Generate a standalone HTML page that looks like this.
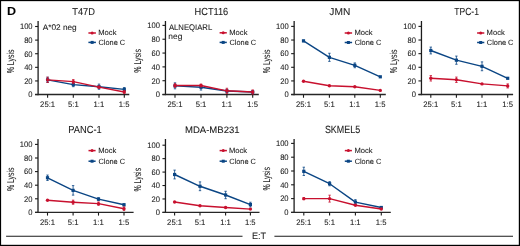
<!DOCTYPE html>
<html><head><meta charset="utf-8"><style>
html,body{margin:0;padding:0;background:#fff;width:520px;height:246px;overflow:hidden;}
svg{display:block;}
text{filter:grayscale(1);}
text{font-family:"Liberation Sans",sans-serif;stroke:#1a1a1a;stroke-width:0.08px;text-rendering:geometricPrecision;}
</style></head><body>
<svg width="520" height="246" viewBox="0 0 520 246">
<rect width="520" height="246" fill="#fff"/>
<rect x="0.00" y="0.00" width="520.00" height="1.15" fill="#000"/>
<rect x="0.00" y="0.00" width="1.10" height="246.00" fill="#000"/>
<rect x="518.80" y="0.00" width="1.20" height="246.00" fill="#000"/>
<rect x="0.00" y="244.80" width="520.00" height="1.20" fill="#000"/>
<text transform="translate(6.89,15.00) scale(1.067,1)" font-size="11.74" font-weight="bold" fill="#000">D</text>
<text transform="translate(72.21,15.00) scale(0.929,1)" font-size="10.00" fill="#1a1a1a">T47D</text>
<line x1="38.10" y1="21.00" x2="38.10" y2="95.15" stroke="#1c1c1c" stroke-width="1.3" stroke-linecap="butt"/>
<line x1="35.10" y1="94.55" x2="38.10" y2="94.55" stroke="#1a1a1a" stroke-width="1.1" stroke-linecap="butt"/>
<text transform="translate(28.35,97.35) scale(0.950,1)" font-size="8.00" fill="#1a1a1a">0</text>
<line x1="35.10" y1="80.94" x2="38.10" y2="80.94" stroke="#1a1a1a" stroke-width="1.1" stroke-linecap="butt"/>
<text transform="translate(24.13,83.74) scale(0.950,1)" font-size="8.00" fill="#1a1a1a">20</text>
<line x1="35.10" y1="67.33" x2="38.10" y2="67.33" stroke="#1a1a1a" stroke-width="1.1" stroke-linecap="butt"/>
<text transform="translate(24.13,70.13) scale(0.950,1)" font-size="8.00" fill="#1a1a1a">40</text>
<line x1="35.10" y1="53.72" x2="38.10" y2="53.72" stroke="#1a1a1a" stroke-width="1.1" stroke-linecap="butt"/>
<text transform="translate(24.13,56.52) scale(0.950,1)" font-size="8.00" fill="#1a1a1a">60</text>
<line x1="35.10" y1="40.11" x2="38.10" y2="40.11" stroke="#1a1a1a" stroke-width="1.1" stroke-linecap="butt"/>
<text transform="translate(24.13,42.91) scale(0.950,1)" font-size="8.00" fill="#1a1a1a">80</text>
<line x1="35.10" y1="26.50" x2="38.10" y2="26.50" stroke="#1a1a1a" stroke-width="1.1" stroke-linecap="butt"/>
<text transform="translate(19.91,29.30) scale(0.950,1)" font-size="8.00" fill="#1a1a1a">100</text>
<line x1="35.10" y1="94.55" x2="129.30" y2="94.55" stroke="#262626" stroke-width="1.4" stroke-linecap="butt"/>
<line x1="47.60" y1="94.55" x2="47.60" y2="97.75" stroke="#1a1a1a" stroke-width="1.1" stroke-linecap="butt"/>
<text transform="translate(40.11,106.85) scale(0.960,1)" font-size="8.00" fill="#1a1a1a">25:1</text>
<line x1="73.30" y1="94.55" x2="73.30" y2="97.75" stroke="#1a1a1a" stroke-width="1.1" stroke-linecap="butt"/>
<text transform="translate(67.98,106.85) scale(0.960,1)" font-size="8.00" fill="#1a1a1a">5:1</text>
<line x1="99.00" y1="94.55" x2="99.00" y2="97.75" stroke="#1a1a1a" stroke-width="1.1" stroke-linecap="butt"/>
<text transform="translate(93.55,106.85) scale(0.960,1)" font-size="8.00" fill="#1a1a1a">1:1</text>
<line x1="124.30" y1="94.55" x2="124.30" y2="97.75" stroke="#1a1a1a" stroke-width="1.1" stroke-linecap="butt"/>
<text transform="translate(118.83,106.85) scale(0.960,1)" font-size="8.00" fill="#1a1a1a">1:5</text>
<text transform="translate(13.60,61.42) rotate(-90)" font-size="10" text-anchor="middle" fill="#1a1a1a" textLength="23.6" lengthAdjust="spacingAndGlyphs" style="stroke-width:0.06px">% Lysis</text>
<line x1="88.40" y1="33.00" x2="95.90" y2="33.00" stroke="#c8102e" stroke-width="1.5" stroke-linecap="butt"/>
<circle cx="92.15" cy="33.00" r="1.5" fill="#c8102e"/>
<line x1="88.40" y1="42.40" x2="95.90" y2="42.40" stroke="#0a4584" stroke-width="1.5" stroke-linecap="butt"/>
<rect x="90.65" y="40.90" width="3.00" height="3.00" fill="#0a4584"/>
<text transform="translate(98.29,35.25) scale(1.000,1)" font-size="7.60" fill="#1a1a1a">Mock</text>
<text transform="translate(98.53,44.80) scale(0.970,1)" font-size="7.60" fill="#1a1a1a">Clone C</text>
<path d="M47.60,79.83 L73.30,84.65 L99.00,86.69 L124.30,89.41" fill="none" stroke="#0a4584" stroke-width="1.4" stroke-linejoin="round"/>
<line x1="47.60" y1="77.19" x2="47.60" y2="82.48" stroke="#0a4584" stroke-width="0.8" stroke-linecap="butt"/>
<line x1="46.40" y1="77.19" x2="48.80" y2="77.19" stroke="#0a4584" stroke-width="0.8" stroke-linecap="butt"/>
<line x1="46.40" y1="82.48" x2="48.80" y2="82.48" stroke="#0a4584" stroke-width="0.8" stroke-linecap="butt"/>
<rect x="46.00" y="78.23" width="3.20" height="3.20" fill="#0a4584"/>
<line x1="73.30" y1="82.62" x2="73.30" y2="86.69" stroke="#0a4584" stroke-width="0.8" stroke-linecap="butt"/>
<line x1="72.10" y1="82.62" x2="74.50" y2="82.62" stroke="#0a4584" stroke-width="0.8" stroke-linecap="butt"/>
<line x1="72.10" y1="86.69" x2="74.50" y2="86.69" stroke="#0a4584" stroke-width="0.8" stroke-linecap="butt"/>
<rect x="71.70" y="83.05" width="3.20" height="3.20" fill="#0a4584"/>
<line x1="99.00" y1="84.11" x2="99.00" y2="89.27" stroke="#0a4584" stroke-width="0.8" stroke-linecap="butt"/>
<line x1="97.80" y1="84.11" x2="100.20" y2="84.11" stroke="#0a4584" stroke-width="0.8" stroke-linecap="butt"/>
<line x1="97.80" y1="89.27" x2="100.20" y2="89.27" stroke="#0a4584" stroke-width="0.8" stroke-linecap="butt"/>
<rect x="97.40" y="85.09" width="3.20" height="3.20" fill="#0a4584"/>
<line x1="124.30" y1="87.51" x2="124.30" y2="91.31" stroke="#0a4584" stroke-width="0.8" stroke-linecap="butt"/>
<line x1="123.10" y1="87.51" x2="125.50" y2="87.51" stroke="#0a4584" stroke-width="0.8" stroke-linecap="butt"/>
<line x1="123.10" y1="91.31" x2="125.50" y2="91.31" stroke="#0a4584" stroke-width="0.8" stroke-linecap="butt"/>
<rect x="122.70" y="87.81" width="3.20" height="3.20" fill="#0a4584"/>
<path d="M47.60,79.83 L73.30,81.60 L99.00,87.17 L124.30,91.99" fill="none" stroke="#c8102e" stroke-width="1.4" stroke-linejoin="round"/>
<line x1="47.60" y1="77.19" x2="47.60" y2="82.48" stroke="#c8102e" stroke-width="0.8" stroke-linecap="butt"/>
<line x1="46.40" y1="77.19" x2="48.80" y2="77.19" stroke="#c8102e" stroke-width="0.8" stroke-linecap="butt"/>
<line x1="46.40" y1="82.48" x2="48.80" y2="82.48" stroke="#c8102e" stroke-width="0.8" stroke-linecap="butt"/>
<circle cx="47.60" cy="79.83" r="1.7" fill="#c8102e"/>
<line x1="73.30" y1="79.56" x2="73.30" y2="83.64" stroke="#c8102e" stroke-width="0.8" stroke-linecap="butt"/>
<line x1="72.10" y1="79.56" x2="74.50" y2="79.56" stroke="#c8102e" stroke-width="0.8" stroke-linecap="butt"/>
<line x1="72.10" y1="83.64" x2="74.50" y2="83.64" stroke="#c8102e" stroke-width="0.8" stroke-linecap="butt"/>
<circle cx="73.30" cy="81.60" r="1.7" fill="#c8102e"/>
<line x1="99.00" y1="86.15" x2="99.00" y2="88.19" stroke="#c8102e" stroke-width="0.8" stroke-linecap="butt"/>
<line x1="97.80" y1="86.15" x2="100.20" y2="86.15" stroke="#c8102e" stroke-width="0.8" stroke-linecap="butt"/>
<line x1="97.80" y1="88.19" x2="100.20" y2="88.19" stroke="#c8102e" stroke-width="0.8" stroke-linecap="butt"/>
<circle cx="99.00" cy="87.17" r="1.7" fill="#c8102e"/>
<line x1="124.30" y1="90.63" x2="124.30" y2="93.35" stroke="#c8102e" stroke-width="0.8" stroke-linecap="butt"/>
<line x1="123.10" y1="90.63" x2="125.50" y2="90.63" stroke="#c8102e" stroke-width="0.8" stroke-linecap="butt"/>
<line x1="123.10" y1="93.35" x2="125.50" y2="93.35" stroke="#c8102e" stroke-width="0.8" stroke-linecap="butt"/>
<circle cx="124.30" cy="91.99" r="1.7" fill="#c8102e"/>
<text transform="translate(194.56,15.00) scale(0.898,1)" font-size="10.29" fill="#1a1a1a">HCT116</text>
<line x1="165.45" y1="21.00" x2="165.45" y2="95.15" stroke="#1c1c1c" stroke-width="1.3" stroke-linecap="butt"/>
<line x1="162.45" y1="94.55" x2="165.45" y2="94.55" stroke="#1a1a1a" stroke-width="1.1" stroke-linecap="butt"/>
<text transform="translate(155.70,97.35) scale(0.950,1)" font-size="8.00" fill="#1a1a1a">0</text>
<line x1="162.45" y1="80.72" x2="165.45" y2="80.72" stroke="#1a1a1a" stroke-width="1.1" stroke-linecap="butt"/>
<text transform="translate(151.48,83.52) scale(0.950,1)" font-size="8.00" fill="#1a1a1a">20</text>
<line x1="162.45" y1="66.89" x2="165.45" y2="66.89" stroke="#1a1a1a" stroke-width="1.1" stroke-linecap="butt"/>
<text transform="translate(151.48,69.69) scale(0.950,1)" font-size="8.00" fill="#1a1a1a">40</text>
<line x1="162.45" y1="53.06" x2="165.45" y2="53.06" stroke="#1a1a1a" stroke-width="1.1" stroke-linecap="butt"/>
<text transform="translate(151.48,55.86) scale(0.950,1)" font-size="8.00" fill="#1a1a1a">60</text>
<line x1="162.45" y1="39.23" x2="165.45" y2="39.23" stroke="#1a1a1a" stroke-width="1.1" stroke-linecap="butt"/>
<text transform="translate(151.48,42.03) scale(0.950,1)" font-size="8.00" fill="#1a1a1a">80</text>
<line x1="162.45" y1="25.40" x2="165.45" y2="25.40" stroke="#1a1a1a" stroke-width="1.1" stroke-linecap="butt"/>
<text transform="translate(147.26,28.20) scale(0.950,1)" font-size="8.00" fill="#1a1a1a">100</text>
<line x1="162.45" y1="94.55" x2="258.80" y2="94.55" stroke="#262626" stroke-width="1.4" stroke-linecap="butt"/>
<line x1="175.00" y1="94.55" x2="175.00" y2="97.75" stroke="#1a1a1a" stroke-width="1.1" stroke-linecap="butt"/>
<text transform="translate(167.51,106.85) scale(0.960,1)" font-size="8.00" fill="#1a1a1a">25:1</text>
<line x1="201.00" y1="94.55" x2="201.00" y2="97.75" stroke="#1a1a1a" stroke-width="1.1" stroke-linecap="butt"/>
<text transform="translate(195.68,106.85) scale(0.960,1)" font-size="8.00" fill="#1a1a1a">5:1</text>
<line x1="226.90" y1="94.55" x2="226.90" y2="97.75" stroke="#1a1a1a" stroke-width="1.1" stroke-linecap="butt"/>
<text transform="translate(221.45,106.85) scale(0.960,1)" font-size="8.00" fill="#1a1a1a">1:1</text>
<line x1="252.70" y1="94.55" x2="252.70" y2="97.75" stroke="#1a1a1a" stroke-width="1.1" stroke-linecap="butt"/>
<text transform="translate(247.23,106.85) scale(0.960,1)" font-size="8.00" fill="#1a1a1a">1:5</text>
<text transform="translate(140.95,60.87) rotate(-90)" font-size="10" text-anchor="middle" fill="#1a1a1a" textLength="23.6" lengthAdjust="spacingAndGlyphs" style="stroke-width:0.06px">% Lysis</text>
<line x1="219.60" y1="32.80" x2="226.80" y2="32.80" stroke="#c8102e" stroke-width="1.5" stroke-linecap="butt"/>
<circle cx="223.20" cy="32.80" r="1.5" fill="#c8102e"/>
<line x1="219.60" y1="42.40" x2="226.80" y2="42.40" stroke="#0a4584" stroke-width="1.5" stroke-linecap="butt"/>
<rect x="221.70" y="40.90" width="3.00" height="3.00" fill="#0a4584"/>
<text transform="translate(229.29,35.05) scale(1.000,1)" font-size="7.60" fill="#1a1a1a">Mock</text>
<text transform="translate(229.53,44.80) scale(0.970,1)" font-size="7.60" fill="#1a1a1a">Clone C</text>
<path d="M175.00,85.83 L201.00,87.28 L226.90,91.03 L252.70,92.00" fill="none" stroke="#0a4584" stroke-width="1.4" stroke-linejoin="round"/>
<line x1="175.00" y1="82.84" x2="175.00" y2="88.81" stroke="#0a4584" stroke-width="0.8" stroke-linecap="butt"/>
<line x1="173.80" y1="82.84" x2="176.20" y2="82.84" stroke="#0a4584" stroke-width="0.8" stroke-linecap="butt"/>
<line x1="173.80" y1="88.81" x2="176.20" y2="88.81" stroke="#0a4584" stroke-width="0.8" stroke-linecap="butt"/>
<rect x="173.40" y="84.23" width="3.20" height="3.20" fill="#0a4584"/>
<line x1="201.00" y1="84.51" x2="201.00" y2="90.06" stroke="#0a4584" stroke-width="0.8" stroke-linecap="butt"/>
<line x1="199.80" y1="84.51" x2="202.20" y2="84.51" stroke="#0a4584" stroke-width="0.8" stroke-linecap="butt"/>
<line x1="199.80" y1="90.06" x2="202.20" y2="90.06" stroke="#0a4584" stroke-width="0.8" stroke-linecap="butt"/>
<rect x="199.40" y="85.68" width="3.20" height="3.20" fill="#0a4584"/>
<line x1="226.90" y1="89.30" x2="226.90" y2="92.77" stroke="#0a4584" stroke-width="0.8" stroke-linecap="butt"/>
<line x1="225.70" y1="89.30" x2="228.10" y2="89.30" stroke="#0a4584" stroke-width="0.8" stroke-linecap="butt"/>
<line x1="225.70" y1="92.77" x2="228.10" y2="92.77" stroke="#0a4584" stroke-width="0.8" stroke-linecap="butt"/>
<rect x="225.30" y="89.43" width="3.20" height="3.20" fill="#0a4584"/>
<line x1="252.70" y1="90.61" x2="252.70" y2="93.39" stroke="#0a4584" stroke-width="0.8" stroke-linecap="butt"/>
<line x1="251.50" y1="90.61" x2="253.90" y2="90.61" stroke="#0a4584" stroke-width="0.8" stroke-linecap="butt"/>
<line x1="251.50" y1="93.39" x2="253.90" y2="93.39" stroke="#0a4584" stroke-width="0.8" stroke-linecap="butt"/>
<rect x="251.10" y="90.40" width="3.20" height="3.20" fill="#0a4584"/>
<path d="M175.00,85.48 L201.00,85.48 L226.90,90.82 L252.70,92.00" fill="none" stroke="#c8102e" stroke-width="1.4" stroke-linejoin="round"/>
<line x1="175.00" y1="83.74" x2="175.00" y2="87.21" stroke="#c8102e" stroke-width="0.8" stroke-linecap="butt"/>
<line x1="173.80" y1="83.74" x2="176.20" y2="83.74" stroke="#c8102e" stroke-width="0.8" stroke-linecap="butt"/>
<line x1="173.80" y1="87.21" x2="176.20" y2="87.21" stroke="#c8102e" stroke-width="0.8" stroke-linecap="butt"/>
<circle cx="175.00" cy="85.48" r="1.7" fill="#c8102e"/>
<line x1="201.00" y1="84.09" x2="201.00" y2="86.87" stroke="#c8102e" stroke-width="0.8" stroke-linecap="butt"/>
<line x1="199.80" y1="84.09" x2="202.20" y2="84.09" stroke="#c8102e" stroke-width="0.8" stroke-linecap="butt"/>
<line x1="199.80" y1="86.87" x2="202.20" y2="86.87" stroke="#c8102e" stroke-width="0.8" stroke-linecap="butt"/>
<circle cx="201.00" cy="85.48" r="1.7" fill="#c8102e"/>
<line x1="226.90" y1="88.25" x2="226.90" y2="93.39" stroke="#c8102e" stroke-width="0.8" stroke-linecap="butt"/>
<line x1="225.70" y1="88.25" x2="228.10" y2="88.25" stroke="#c8102e" stroke-width="0.8" stroke-linecap="butt"/>
<line x1="225.70" y1="93.39" x2="228.10" y2="93.39" stroke="#c8102e" stroke-width="0.8" stroke-linecap="butt"/>
<circle cx="226.90" cy="90.82" r="1.7" fill="#c8102e"/>
<line x1="252.70" y1="89.92" x2="252.70" y2="94.08" stroke="#c8102e" stroke-width="0.8" stroke-linecap="butt"/>
<line x1="251.50" y1="89.92" x2="253.90" y2="89.92" stroke="#c8102e" stroke-width="0.8" stroke-linecap="butt"/>
<line x1="251.50" y1="94.08" x2="253.90" y2="94.08" stroke="#c8102e" stroke-width="0.8" stroke-linecap="butt"/>
<circle cx="252.70" cy="92.00" r="1.7" fill="#c8102e"/>
<text transform="translate(329.35,15.00) scale(1.015,1)" font-size="10.00" fill="#1a1a1a">JMN</text>
<line x1="294.15" y1="21.00" x2="294.15" y2="95.15" stroke="#1c1c1c" stroke-width="1.3" stroke-linecap="butt"/>
<line x1="291.15" y1="94.55" x2="294.15" y2="94.55" stroke="#1a1a1a" stroke-width="1.1" stroke-linecap="butt"/>
<text transform="translate(284.40,97.35) scale(0.950,1)" font-size="8.00" fill="#1a1a1a">0</text>
<line x1="291.15" y1="80.92" x2="294.15" y2="80.92" stroke="#1a1a1a" stroke-width="1.1" stroke-linecap="butt"/>
<text transform="translate(280.18,83.72) scale(0.950,1)" font-size="8.00" fill="#1a1a1a">20</text>
<line x1="291.15" y1="67.29" x2="294.15" y2="67.29" stroke="#1a1a1a" stroke-width="1.1" stroke-linecap="butt"/>
<text transform="translate(280.18,70.09) scale(0.950,1)" font-size="8.00" fill="#1a1a1a">40</text>
<line x1="291.15" y1="53.66" x2="294.15" y2="53.66" stroke="#1a1a1a" stroke-width="1.1" stroke-linecap="butt"/>
<text transform="translate(280.18,56.46) scale(0.950,1)" font-size="8.00" fill="#1a1a1a">60</text>
<line x1="291.15" y1="40.03" x2="294.15" y2="40.03" stroke="#1a1a1a" stroke-width="1.1" stroke-linecap="butt"/>
<text transform="translate(280.18,42.83) scale(0.950,1)" font-size="8.00" fill="#1a1a1a">80</text>
<line x1="291.15" y1="26.40" x2="294.15" y2="26.40" stroke="#1a1a1a" stroke-width="1.1" stroke-linecap="butt"/>
<text transform="translate(275.96,29.20) scale(0.950,1)" font-size="8.00" fill="#1a1a1a">100</text>
<line x1="291.15" y1="94.55" x2="385.80" y2="94.55" stroke="#262626" stroke-width="1.4" stroke-linecap="butt"/>
<line x1="303.50" y1="94.55" x2="303.50" y2="97.75" stroke="#1a1a1a" stroke-width="1.1" stroke-linecap="butt"/>
<text transform="translate(296.01,106.85) scale(0.960,1)" font-size="8.00" fill="#1a1a1a">25:1</text>
<line x1="329.40" y1="94.55" x2="329.40" y2="97.75" stroke="#1a1a1a" stroke-width="1.1" stroke-linecap="butt"/>
<text transform="translate(324.08,106.85) scale(0.960,1)" font-size="8.00" fill="#1a1a1a">5:1</text>
<line x1="354.80" y1="94.55" x2="354.80" y2="97.75" stroke="#1a1a1a" stroke-width="1.1" stroke-linecap="butt"/>
<text transform="translate(349.35,106.85) scale(0.960,1)" font-size="8.00" fill="#1a1a1a">1:1</text>
<line x1="380.30" y1="94.55" x2="380.30" y2="97.75" stroke="#1a1a1a" stroke-width="1.1" stroke-linecap="butt"/>
<text transform="translate(374.83,106.85) scale(0.960,1)" font-size="8.00" fill="#1a1a1a">1:5</text>
<text transform="translate(269.65,61.37) rotate(-90)" font-size="10" text-anchor="middle" fill="#1a1a1a" textLength="23.6" lengthAdjust="spacingAndGlyphs" style="stroke-width:0.06px">% Lysis</text>
<line x1="344.70" y1="33.00" x2="352.10" y2="33.00" stroke="#c8102e" stroke-width="1.5" stroke-linecap="butt"/>
<circle cx="348.40" cy="33.00" r="1.5" fill="#c8102e"/>
<line x1="344.70" y1="42.50" x2="352.10" y2="42.50" stroke="#0a4584" stroke-width="1.5" stroke-linecap="butt"/>
<rect x="346.90" y="41.00" width="3.00" height="3.00" fill="#0a4584"/>
<text transform="translate(354.39,35.25) scale(1.000,1)" font-size="7.60" fill="#1a1a1a">Mock</text>
<text transform="translate(354.63,44.90) scale(0.970,1)" font-size="7.60" fill="#1a1a1a">Clone C</text>
<path d="M303.50,40.89 L329.40,57.32 L354.80,65.33 L380.30,76.81" fill="none" stroke="#0a4584" stroke-width="1.4" stroke-linejoin="round"/>
<line x1="303.50" y1="40.07" x2="303.50" y2="41.70" stroke="#0a4584" stroke-width="0.8" stroke-linecap="butt"/>
<line x1="302.30" y1="40.07" x2="304.70" y2="40.07" stroke="#0a4584" stroke-width="0.8" stroke-linecap="butt"/>
<line x1="302.30" y1="41.70" x2="304.70" y2="41.70" stroke="#0a4584" stroke-width="0.8" stroke-linecap="butt"/>
<rect x="301.90" y="39.29" width="3.20" height="3.20" fill="#0a4584"/>
<line x1="329.40" y1="53.25" x2="329.40" y2="61.39" stroke="#0a4584" stroke-width="0.8" stroke-linecap="butt"/>
<line x1="328.20" y1="53.25" x2="330.60" y2="53.25" stroke="#0a4584" stroke-width="0.8" stroke-linecap="butt"/>
<line x1="328.20" y1="61.39" x2="330.60" y2="61.39" stroke="#0a4584" stroke-width="0.8" stroke-linecap="butt"/>
<rect x="327.80" y="55.72" width="3.20" height="3.20" fill="#0a4584"/>
<line x1="354.80" y1="62.95" x2="354.80" y2="67.71" stroke="#0a4584" stroke-width="0.8" stroke-linecap="butt"/>
<line x1="353.60" y1="62.95" x2="356.00" y2="62.95" stroke="#0a4584" stroke-width="0.8" stroke-linecap="butt"/>
<line x1="353.60" y1="67.71" x2="356.00" y2="67.71" stroke="#0a4584" stroke-width="0.8" stroke-linecap="butt"/>
<rect x="353.20" y="63.73" width="3.20" height="3.20" fill="#0a4584"/>
<rect x="378.70" y="75.21" width="3.20" height="3.20" fill="#0a4584"/>
<path d="M303.50,81.22 L329.40,85.77 L354.80,86.79 L380.30,90.39" fill="none" stroke="#c8102e" stroke-width="1.4" stroke-linejoin="round"/>
<circle cx="303.50" cy="81.22" r="1.7" fill="#c8102e"/>
<circle cx="329.40" cy="85.77" r="1.7" fill="#c8102e"/>
<circle cx="354.80" cy="86.79" r="1.7" fill="#c8102e"/>
<circle cx="380.30" cy="90.39" r="1.7" fill="#c8102e"/>
<text transform="translate(454.23,15.00) scale(0.833,1)" font-size="10.29" fill="#1a1a1a">TPC-1</text>
<line x1="421.45" y1="21.00" x2="421.45" y2="95.15" stroke="#1c1c1c" stroke-width="1.3" stroke-linecap="butt"/>
<line x1="418.45" y1="94.55" x2="421.45" y2="94.55" stroke="#1a1a1a" stroke-width="1.1" stroke-linecap="butt"/>
<text transform="translate(411.70,97.35) scale(0.950,1)" font-size="8.00" fill="#1a1a1a">0</text>
<line x1="418.45" y1="80.92" x2="421.45" y2="80.92" stroke="#1a1a1a" stroke-width="1.1" stroke-linecap="butt"/>
<text transform="translate(407.48,83.72) scale(0.950,1)" font-size="8.00" fill="#1a1a1a">20</text>
<line x1="418.45" y1="67.29" x2="421.45" y2="67.29" stroke="#1a1a1a" stroke-width="1.1" stroke-linecap="butt"/>
<text transform="translate(407.48,70.09) scale(0.950,1)" font-size="8.00" fill="#1a1a1a">40</text>
<line x1="418.45" y1="53.66" x2="421.45" y2="53.66" stroke="#1a1a1a" stroke-width="1.1" stroke-linecap="butt"/>
<text transform="translate(407.48,56.46) scale(0.950,1)" font-size="8.00" fill="#1a1a1a">60</text>
<line x1="418.45" y1="40.03" x2="421.45" y2="40.03" stroke="#1a1a1a" stroke-width="1.1" stroke-linecap="butt"/>
<text transform="translate(407.48,42.83) scale(0.950,1)" font-size="8.00" fill="#1a1a1a">80</text>
<line x1="418.45" y1="26.40" x2="421.45" y2="26.40" stroke="#1a1a1a" stroke-width="1.1" stroke-linecap="butt"/>
<text transform="translate(403.26,29.20) scale(0.950,1)" font-size="8.00" fill="#1a1a1a">100</text>
<line x1="418.45" y1="94.55" x2="513.10" y2="94.55" stroke="#262626" stroke-width="1.4" stroke-linecap="butt"/>
<line x1="430.80" y1="94.55" x2="430.80" y2="97.75" stroke="#1a1a1a" stroke-width="1.1" stroke-linecap="butt"/>
<text transform="translate(423.31,106.85) scale(0.960,1)" font-size="8.00" fill="#1a1a1a">25:1</text>
<line x1="456.40" y1="94.55" x2="456.40" y2="97.75" stroke="#1a1a1a" stroke-width="1.1" stroke-linecap="butt"/>
<text transform="translate(451.08,106.85) scale(0.960,1)" font-size="8.00" fill="#1a1a1a">5:1</text>
<line x1="482.00" y1="94.55" x2="482.00" y2="97.75" stroke="#1a1a1a" stroke-width="1.1" stroke-linecap="butt"/>
<text transform="translate(476.55,106.85) scale(0.960,1)" font-size="8.00" fill="#1a1a1a">1:1</text>
<line x1="507.70" y1="94.55" x2="507.70" y2="97.75" stroke="#1a1a1a" stroke-width="1.1" stroke-linecap="butt"/>
<text transform="translate(502.23,106.85) scale(0.960,1)" font-size="8.00" fill="#1a1a1a">1:5</text>
<text transform="translate(396.95,61.37) rotate(-90)" font-size="10" text-anchor="middle" fill="#1a1a1a" textLength="23.6" lengthAdjust="spacingAndGlyphs" style="stroke-width:0.06px">% Lysis</text>
<line x1="477.10" y1="33.00" x2="484.30" y2="33.00" stroke="#c8102e" stroke-width="1.5" stroke-linecap="butt"/>
<circle cx="480.70" cy="33.00" r="1.5" fill="#c8102e"/>
<line x1="477.10" y1="42.50" x2="484.30" y2="42.50" stroke="#0a4584" stroke-width="1.5" stroke-linecap="butt"/>
<rect x="479.20" y="41.00" width="3.00" height="3.00" fill="#0a4584"/>
<text transform="translate(486.59,35.25) scale(1.000,1)" font-size="7.60" fill="#1a1a1a">Mock</text>
<text transform="translate(486.83,44.90) scale(0.970,1)" font-size="7.60" fill="#1a1a1a">Clone C</text>
<path d="M430.80,50.51 L456.40,60.18 L482.00,66.31 L507.70,78.29" fill="none" stroke="#0a4584" stroke-width="1.4" stroke-linejoin="round"/>
<line x1="430.80" y1="47.10" x2="430.80" y2="53.91" stroke="#0a4584" stroke-width="0.8" stroke-linecap="butt"/>
<line x1="429.60" y1="47.10" x2="432.00" y2="47.10" stroke="#0a4584" stroke-width="0.8" stroke-linecap="butt"/>
<line x1="429.60" y1="53.91" x2="432.00" y2="53.91" stroke="#0a4584" stroke-width="0.8" stroke-linecap="butt"/>
<rect x="429.20" y="48.91" width="3.20" height="3.20" fill="#0a4584"/>
<line x1="456.40" y1="56.09" x2="456.40" y2="64.26" stroke="#0a4584" stroke-width="0.8" stroke-linecap="butt"/>
<line x1="455.20" y1="56.09" x2="457.60" y2="56.09" stroke="#0a4584" stroke-width="0.8" stroke-linecap="butt"/>
<line x1="455.20" y1="64.26" x2="457.60" y2="64.26" stroke="#0a4584" stroke-width="0.8" stroke-linecap="butt"/>
<rect x="454.80" y="58.58" width="3.20" height="3.20" fill="#0a4584"/>
<line x1="482.00" y1="61.88" x2="482.00" y2="70.73" stroke="#0a4584" stroke-width="0.8" stroke-linecap="butt"/>
<line x1="480.80" y1="61.88" x2="483.20" y2="61.88" stroke="#0a4584" stroke-width="0.8" stroke-linecap="butt"/>
<line x1="480.80" y1="70.73" x2="483.20" y2="70.73" stroke="#0a4584" stroke-width="0.8" stroke-linecap="butt"/>
<rect x="480.40" y="64.71" width="3.20" height="3.20" fill="#0a4584"/>
<rect x="506.10" y="76.69" width="3.20" height="3.20" fill="#0a4584"/>
<path d="M430.80,78.29 L456.40,79.79 L482.00,83.88 L507.70,85.92" fill="none" stroke="#c8102e" stroke-width="1.4" stroke-linejoin="round"/>
<line x1="430.80" y1="75.57" x2="430.80" y2="81.02" stroke="#c8102e" stroke-width="0.8" stroke-linecap="butt"/>
<line x1="429.60" y1="75.57" x2="432.00" y2="75.57" stroke="#c8102e" stroke-width="0.8" stroke-linecap="butt"/>
<line x1="429.60" y1="81.02" x2="432.00" y2="81.02" stroke="#c8102e" stroke-width="0.8" stroke-linecap="butt"/>
<circle cx="430.80" cy="78.29" r="1.7" fill="#c8102e"/>
<line x1="456.40" y1="77.07" x2="456.40" y2="82.51" stroke="#c8102e" stroke-width="0.8" stroke-linecap="butt"/>
<line x1="455.20" y1="77.07" x2="457.60" y2="77.07" stroke="#c8102e" stroke-width="0.8" stroke-linecap="butt"/>
<line x1="455.20" y1="82.51" x2="457.60" y2="82.51" stroke="#c8102e" stroke-width="0.8" stroke-linecap="butt"/>
<circle cx="456.40" cy="79.79" r="1.7" fill="#c8102e"/>
<circle cx="482.00" cy="83.88" r="1.7" fill="#c8102e"/>
<line x1="507.70" y1="83.88" x2="507.70" y2="87.96" stroke="#c8102e" stroke-width="0.8" stroke-linecap="butt"/>
<line x1="506.50" y1="83.88" x2="508.90" y2="83.88" stroke="#c8102e" stroke-width="0.8" stroke-linecap="butt"/>
<line x1="506.50" y1="87.96" x2="508.90" y2="87.96" stroke="#c8102e" stroke-width="0.8" stroke-linecap="butt"/>
<circle cx="507.70" cy="85.92" r="1.7" fill="#c8102e"/>
<text transform="translate(68.25,133.00) scale(0.906,1)" font-size="10.29" fill="#1a1a1a">PANC-1</text>
<line x1="38.00" y1="139.00" x2="38.00" y2="213.00" stroke="#1c1c1c" stroke-width="1.3" stroke-linecap="butt"/>
<line x1="35.00" y1="212.40" x2="38.00" y2="212.40" stroke="#1a1a1a" stroke-width="1.1" stroke-linecap="butt"/>
<text transform="translate(28.25,215.20) scale(0.950,1)" font-size="8.00" fill="#1a1a1a">0</text>
<line x1="35.00" y1="198.80" x2="38.00" y2="198.80" stroke="#1a1a1a" stroke-width="1.1" stroke-linecap="butt"/>
<text transform="translate(24.03,201.60) scale(0.950,1)" font-size="8.00" fill="#1a1a1a">20</text>
<line x1="35.00" y1="185.20" x2="38.00" y2="185.20" stroke="#1a1a1a" stroke-width="1.1" stroke-linecap="butt"/>
<text transform="translate(24.03,188.00) scale(0.950,1)" font-size="8.00" fill="#1a1a1a">40</text>
<line x1="35.00" y1="171.60" x2="38.00" y2="171.60" stroke="#1a1a1a" stroke-width="1.1" stroke-linecap="butt"/>
<text transform="translate(24.03,174.40) scale(0.950,1)" font-size="8.00" fill="#1a1a1a">60</text>
<line x1="35.00" y1="158.00" x2="38.00" y2="158.00" stroke="#1a1a1a" stroke-width="1.1" stroke-linecap="butt"/>
<text transform="translate(24.03,160.80) scale(0.950,1)" font-size="8.00" fill="#1a1a1a">80</text>
<line x1="35.00" y1="144.40" x2="38.00" y2="144.40" stroke="#1a1a1a" stroke-width="1.1" stroke-linecap="butt"/>
<text transform="translate(19.81,147.20) scale(0.950,1)" font-size="8.00" fill="#1a1a1a">100</text>
<line x1="35.00" y1="212.40" x2="133.60" y2="212.40" stroke="#262626" stroke-width="1.4" stroke-linecap="butt"/>
<line x1="47.50" y1="212.40" x2="47.50" y2="215.60" stroke="#1a1a1a" stroke-width="1.1" stroke-linecap="butt"/>
<text transform="translate(40.01,224.70) scale(0.960,1)" font-size="8.00" fill="#1a1a1a">25:1</text>
<line x1="73.10" y1="212.40" x2="73.10" y2="215.60" stroke="#1a1a1a" stroke-width="1.1" stroke-linecap="butt"/>
<text transform="translate(67.78,224.70) scale(0.960,1)" font-size="8.00" fill="#1a1a1a">5:1</text>
<line x1="98.50" y1="212.40" x2="98.50" y2="215.60" stroke="#1a1a1a" stroke-width="1.1" stroke-linecap="butt"/>
<text transform="translate(93.05,224.70) scale(0.960,1)" font-size="8.00" fill="#1a1a1a">1:1</text>
<line x1="124.00" y1="212.40" x2="124.00" y2="215.60" stroke="#1a1a1a" stroke-width="1.1" stroke-linecap="butt"/>
<text transform="translate(118.53,224.70) scale(0.960,1)" font-size="8.00" fill="#1a1a1a">1:5</text>
<text transform="translate(13.50,179.30) rotate(-90)" font-size="10" text-anchor="middle" fill="#1a1a1a" textLength="23.6" lengthAdjust="spacingAndGlyphs" style="stroke-width:0.06px">% Lysis</text>
<line x1="88.50" y1="150.60" x2="95.60" y2="150.60" stroke="#c8102e" stroke-width="1.5" stroke-linecap="butt"/>
<circle cx="92.05" cy="150.60" r="1.5" fill="#c8102e"/>
<line x1="88.50" y1="161.20" x2="95.60" y2="161.20" stroke="#0a4584" stroke-width="1.5" stroke-linecap="butt"/>
<rect x="90.55" y="159.70" width="3.00" height="3.00" fill="#0a4584"/>
<text transform="translate(98.19,152.85) scale(1.000,1)" font-size="7.60" fill="#1a1a1a">Mock</text>
<text transform="translate(98.43,163.60) scale(0.970,1)" font-size="7.60" fill="#1a1a1a">Clone C</text>
<path d="M47.50,177.77 L73.10,190.37 L98.50,199.08 L124.00,204.80" fill="none" stroke="#0a4584" stroke-width="1.4" stroke-linejoin="round"/>
<line x1="47.50" y1="175.05" x2="47.50" y2="180.49" stroke="#0a4584" stroke-width="0.8" stroke-linecap="butt"/>
<line x1="46.30" y1="175.05" x2="48.70" y2="175.05" stroke="#0a4584" stroke-width="0.8" stroke-linecap="butt"/>
<line x1="46.30" y1="180.49" x2="48.70" y2="180.49" stroke="#0a4584" stroke-width="0.8" stroke-linecap="butt"/>
<rect x="45.90" y="176.17" width="3.20" height="3.20" fill="#0a4584"/>
<line x1="73.10" y1="185.60" x2="73.10" y2="195.13" stroke="#0a4584" stroke-width="0.8" stroke-linecap="butt"/>
<line x1="71.90" y1="185.60" x2="74.30" y2="185.60" stroke="#0a4584" stroke-width="0.8" stroke-linecap="butt"/>
<line x1="71.90" y1="195.13" x2="74.30" y2="195.13" stroke="#0a4584" stroke-width="0.8" stroke-linecap="butt"/>
<rect x="71.50" y="188.77" width="3.20" height="3.20" fill="#0a4584"/>
<line x1="98.50" y1="197.72" x2="98.50" y2="200.45" stroke="#0a4584" stroke-width="0.8" stroke-linecap="butt"/>
<line x1="97.30" y1="197.72" x2="99.70" y2="197.72" stroke="#0a4584" stroke-width="0.8" stroke-linecap="butt"/>
<line x1="97.30" y1="200.45" x2="99.70" y2="200.45" stroke="#0a4584" stroke-width="0.8" stroke-linecap="butt"/>
<rect x="96.90" y="197.48" width="3.20" height="3.20" fill="#0a4584"/>
<line x1="124.00" y1="203.78" x2="124.00" y2="205.83" stroke="#0a4584" stroke-width="0.8" stroke-linecap="butt"/>
<line x1="122.80" y1="203.78" x2="125.20" y2="203.78" stroke="#0a4584" stroke-width="0.8" stroke-linecap="butt"/>
<line x1="122.80" y1="205.83" x2="125.20" y2="205.83" stroke="#0a4584" stroke-width="0.8" stroke-linecap="butt"/>
<rect x="122.40" y="203.20" width="3.20" height="3.20" fill="#0a4584"/>
<path d="M47.50,200.24 L73.10,202.22 L98.50,203.65 L124.00,208.69" fill="none" stroke="#c8102e" stroke-width="1.4" stroke-linejoin="round"/>
<circle cx="47.50" cy="200.24" r="1.7" fill="#c8102e"/>
<line x1="73.10" y1="200.17" x2="73.10" y2="204.26" stroke="#c8102e" stroke-width="0.8" stroke-linecap="butt"/>
<line x1="71.90" y1="200.17" x2="74.30" y2="200.17" stroke="#c8102e" stroke-width="0.8" stroke-linecap="butt"/>
<line x1="71.90" y1="204.26" x2="74.30" y2="204.26" stroke="#c8102e" stroke-width="0.8" stroke-linecap="butt"/>
<circle cx="73.10" cy="202.22" r="1.7" fill="#c8102e"/>
<line x1="98.50" y1="201.94" x2="98.50" y2="205.35" stroke="#c8102e" stroke-width="0.8" stroke-linecap="butt"/>
<line x1="97.30" y1="201.94" x2="99.70" y2="201.94" stroke="#c8102e" stroke-width="0.8" stroke-linecap="butt"/>
<line x1="97.30" y1="205.35" x2="99.70" y2="205.35" stroke="#c8102e" stroke-width="0.8" stroke-linecap="butt"/>
<circle cx="98.50" cy="203.65" r="1.7" fill="#c8102e"/>
<line x1="124.00" y1="206.98" x2="124.00" y2="210.39" stroke="#c8102e" stroke-width="0.8" stroke-linecap="butt"/>
<line x1="122.80" y1="206.98" x2="125.20" y2="206.98" stroke="#c8102e" stroke-width="0.8" stroke-linecap="butt"/>
<line x1="122.80" y1="210.39" x2="125.20" y2="210.39" stroke="#c8102e" stroke-width="0.8" stroke-linecap="butt"/>
<circle cx="124.00" cy="208.69" r="1.7" fill="#c8102e"/>
<text transform="translate(184.94,132.80) scale(1.029,1)" font-size="9.29" fill="#1a1a1a">MDA-MB231</text>
<line x1="165.45" y1="139.00" x2="165.45" y2="213.00" stroke="#1c1c1c" stroke-width="1.3" stroke-linecap="butt"/>
<line x1="162.45" y1="212.40" x2="165.45" y2="212.40" stroke="#1a1a1a" stroke-width="1.1" stroke-linecap="butt"/>
<text transform="translate(155.70,215.20) scale(0.950,1)" font-size="8.00" fill="#1a1a1a">0</text>
<line x1="162.45" y1="198.96" x2="165.45" y2="198.96" stroke="#1a1a1a" stroke-width="1.1" stroke-linecap="butt"/>
<text transform="translate(151.48,201.76) scale(0.950,1)" font-size="8.00" fill="#1a1a1a">20</text>
<line x1="162.45" y1="185.52" x2="165.45" y2="185.52" stroke="#1a1a1a" stroke-width="1.1" stroke-linecap="butt"/>
<text transform="translate(151.48,188.32) scale(0.950,1)" font-size="8.00" fill="#1a1a1a">40</text>
<line x1="162.45" y1="172.08" x2="165.45" y2="172.08" stroke="#1a1a1a" stroke-width="1.1" stroke-linecap="butt"/>
<text transform="translate(151.48,174.88) scale(0.950,1)" font-size="8.00" fill="#1a1a1a">60</text>
<line x1="162.45" y1="158.64" x2="165.45" y2="158.64" stroke="#1a1a1a" stroke-width="1.1" stroke-linecap="butt"/>
<text transform="translate(151.48,161.44) scale(0.950,1)" font-size="8.00" fill="#1a1a1a">80</text>
<line x1="162.45" y1="145.20" x2="165.45" y2="145.20" stroke="#1a1a1a" stroke-width="1.1" stroke-linecap="butt"/>
<text transform="translate(147.26,148.00) scale(0.950,1)" font-size="8.00" fill="#1a1a1a">100</text>
<line x1="162.45" y1="212.40" x2="259.50" y2="212.40" stroke="#262626" stroke-width="1.4" stroke-linecap="butt"/>
<line x1="174.60" y1="212.40" x2="174.60" y2="215.60" stroke="#1a1a1a" stroke-width="1.1" stroke-linecap="butt"/>
<text transform="translate(167.11,224.70) scale(0.960,1)" font-size="8.00" fill="#1a1a1a">25:1</text>
<line x1="200.00" y1="212.40" x2="200.00" y2="215.60" stroke="#1a1a1a" stroke-width="1.1" stroke-linecap="butt"/>
<text transform="translate(194.68,224.70) scale(0.960,1)" font-size="8.00" fill="#1a1a1a">5:1</text>
<line x1="225.60" y1="212.40" x2="225.60" y2="215.60" stroke="#1a1a1a" stroke-width="1.1" stroke-linecap="butt"/>
<text transform="translate(220.15,224.70) scale(0.960,1)" font-size="8.00" fill="#1a1a1a">1:1</text>
<line x1="250.40" y1="212.40" x2="250.40" y2="215.60" stroke="#1a1a1a" stroke-width="1.1" stroke-linecap="butt"/>
<text transform="translate(244.93,224.70) scale(0.960,1)" font-size="8.00" fill="#1a1a1a">1:5</text>
<text transform="translate(140.95,179.70) rotate(-90)" font-size="10" text-anchor="middle" fill="#1a1a1a" textLength="23.6" lengthAdjust="spacingAndGlyphs" style="stroke-width:0.06px">% Lysis</text>
<line x1="219.60" y1="150.60" x2="226.90" y2="150.60" stroke="#c8102e" stroke-width="1.5" stroke-linecap="butt"/>
<circle cx="223.25" cy="150.60" r="1.5" fill="#c8102e"/>
<line x1="219.60" y1="161.20" x2="226.90" y2="161.20" stroke="#0a4584" stroke-width="1.5" stroke-linecap="butt"/>
<rect x="221.75" y="159.70" width="3.00" height="3.00" fill="#0a4584"/>
<text transform="translate(228.99,152.85) scale(1.000,1)" font-size="7.60" fill="#1a1a1a">Mock</text>
<text transform="translate(229.23,163.60) scale(0.970,1)" font-size="7.60" fill="#1a1a1a">Clone C</text>
<path d="M174.60,174.51 L200.00,186.27 L225.60,194.99 L250.40,204.59" fill="none" stroke="#0a4584" stroke-width="1.4" stroke-linejoin="round"/>
<line x1="174.60" y1="170.11" x2="174.60" y2="178.90" stroke="#0a4584" stroke-width="0.8" stroke-linecap="butt"/>
<line x1="173.40" y1="170.11" x2="175.80" y2="170.11" stroke="#0a4584" stroke-width="0.8" stroke-linecap="butt"/>
<line x1="173.40" y1="178.90" x2="175.80" y2="178.90" stroke="#0a4584" stroke-width="0.8" stroke-linecap="butt"/>
<rect x="173.00" y="172.91" width="3.20" height="3.20" fill="#0a4584"/>
<line x1="200.00" y1="181.88" x2="200.00" y2="190.67" stroke="#0a4584" stroke-width="0.8" stroke-linecap="butt"/>
<line x1="198.80" y1="181.88" x2="201.20" y2="181.88" stroke="#0a4584" stroke-width="0.8" stroke-linecap="butt"/>
<line x1="198.80" y1="190.67" x2="201.20" y2="190.67" stroke="#0a4584" stroke-width="0.8" stroke-linecap="butt"/>
<rect x="198.40" y="184.67" width="3.20" height="3.20" fill="#0a4584"/>
<line x1="225.60" y1="191.27" x2="225.60" y2="198.71" stroke="#0a4584" stroke-width="0.8" stroke-linecap="butt"/>
<line x1="224.40" y1="191.27" x2="226.80" y2="191.27" stroke="#0a4584" stroke-width="0.8" stroke-linecap="butt"/>
<line x1="224.40" y1="198.71" x2="226.80" y2="198.71" stroke="#0a4584" stroke-width="0.8" stroke-linecap="butt"/>
<rect x="224.00" y="193.39" width="3.20" height="3.20" fill="#0a4584"/>
<line x1="250.40" y1="202.22" x2="250.40" y2="206.96" stroke="#0a4584" stroke-width="0.8" stroke-linecap="butt"/>
<line x1="249.20" y1="202.22" x2="251.60" y2="202.22" stroke="#0a4584" stroke-width="0.8" stroke-linecap="butt"/>
<line x1="249.20" y1="206.96" x2="251.60" y2="206.96" stroke="#0a4584" stroke-width="0.8" stroke-linecap="butt"/>
<rect x="248.80" y="202.99" width="3.20" height="3.20" fill="#0a4584"/>
<path d="M174.60,202.02 L200.00,205.81 L225.60,207.50 L250.40,209.12" fill="none" stroke="#c8102e" stroke-width="1.4" stroke-linejoin="round"/>
<circle cx="174.60" cy="202.02" r="1.7" fill="#c8102e"/>
<circle cx="200.00" cy="205.81" r="1.7" fill="#c8102e"/>
<circle cx="225.60" cy="207.50" r="1.7" fill="#c8102e"/>
<circle cx="250.40" cy="209.12" r="1.7" fill="#c8102e"/>
<text transform="translate(324.90,133.20) scale(0.845,1)" font-size="10.57" fill="#1a1a1a">SKMEL5</text>
<line x1="294.10" y1="139.00" x2="294.10" y2="213.00" stroke="#1c1c1c" stroke-width="1.3" stroke-linecap="butt"/>
<line x1="291.10" y1="212.40" x2="294.10" y2="212.40" stroke="#1a1a1a" stroke-width="1.1" stroke-linecap="butt"/>
<text transform="translate(284.35,215.20) scale(0.950,1)" font-size="8.00" fill="#1a1a1a">0</text>
<line x1="291.10" y1="198.60" x2="294.10" y2="198.60" stroke="#1a1a1a" stroke-width="1.1" stroke-linecap="butt"/>
<text transform="translate(280.13,201.40) scale(0.950,1)" font-size="8.00" fill="#1a1a1a">20</text>
<line x1="291.10" y1="184.80" x2="294.10" y2="184.80" stroke="#1a1a1a" stroke-width="1.1" stroke-linecap="butt"/>
<text transform="translate(280.13,187.60) scale(0.950,1)" font-size="8.00" fill="#1a1a1a">40</text>
<line x1="291.10" y1="171.00" x2="294.10" y2="171.00" stroke="#1a1a1a" stroke-width="1.1" stroke-linecap="butt"/>
<text transform="translate(280.13,173.80) scale(0.950,1)" font-size="8.00" fill="#1a1a1a">60</text>
<line x1="291.10" y1="157.20" x2="294.10" y2="157.20" stroke="#1a1a1a" stroke-width="1.1" stroke-linecap="butt"/>
<text transform="translate(280.13,160.00) scale(0.950,1)" font-size="8.00" fill="#1a1a1a">80</text>
<line x1="291.10" y1="143.40" x2="294.10" y2="143.40" stroke="#1a1a1a" stroke-width="1.1" stroke-linecap="butt"/>
<text transform="translate(275.91,146.20) scale(0.950,1)" font-size="8.00" fill="#1a1a1a">100</text>
<line x1="291.10" y1="212.40" x2="390.80" y2="212.40" stroke="#262626" stroke-width="1.4" stroke-linecap="butt"/>
<line x1="303.80" y1="212.40" x2="303.80" y2="215.60" stroke="#1a1a1a" stroke-width="1.1" stroke-linecap="butt"/>
<text transform="translate(296.31,224.70) scale(0.960,1)" font-size="8.00" fill="#1a1a1a">25:1</text>
<line x1="329.60" y1="212.40" x2="329.60" y2="215.60" stroke="#1a1a1a" stroke-width="1.1" stroke-linecap="butt"/>
<text transform="translate(324.28,224.70) scale(0.960,1)" font-size="8.00" fill="#1a1a1a">5:1</text>
<line x1="355.40" y1="212.40" x2="355.40" y2="215.60" stroke="#1a1a1a" stroke-width="1.1" stroke-linecap="butt"/>
<text transform="translate(349.95,224.70) scale(0.960,1)" font-size="8.00" fill="#1a1a1a">1:1</text>
<line x1="381.30" y1="212.40" x2="381.30" y2="215.60" stroke="#1a1a1a" stroke-width="1.1" stroke-linecap="butt"/>
<text transform="translate(375.83,224.70) scale(0.960,1)" font-size="8.00" fill="#1a1a1a">1:5</text>
<text transform="translate(269.60,178.80) rotate(-90)" font-size="10" text-anchor="middle" fill="#1a1a1a" textLength="23.6" lengthAdjust="spacingAndGlyphs" style="stroke-width:0.06px">% Lysis</text>
<line x1="344.80" y1="150.60" x2="351.90" y2="150.60" stroke="#c8102e" stroke-width="1.5" stroke-linecap="butt"/>
<circle cx="348.35" cy="150.60" r="1.5" fill="#c8102e"/>
<line x1="344.80" y1="161.20" x2="351.90" y2="161.20" stroke="#0a4584" stroke-width="1.5" stroke-linecap="butt"/>
<rect x="346.85" y="159.70" width="3.00" height="3.00" fill="#0a4584"/>
<text transform="translate(354.39,152.85) scale(1.000,1)" font-size="7.60" fill="#1a1a1a">Mock</text>
<text transform="translate(354.63,163.60) scale(0.970,1)" font-size="7.60" fill="#1a1a1a">Clone C</text>
<path d="M303.80,171.34 L329.60,183.71 L355.40,202.09 L381.30,207.48" fill="none" stroke="#0a4584" stroke-width="1.4" stroke-linejoin="round"/>
<line x1="303.80" y1="167.19" x2="303.80" y2="175.49" stroke="#0a4584" stroke-width="0.8" stroke-linecap="butt"/>
<line x1="302.60" y1="167.19" x2="305.00" y2="167.19" stroke="#0a4584" stroke-width="0.8" stroke-linecap="butt"/>
<line x1="302.60" y1="175.49" x2="305.00" y2="175.49" stroke="#0a4584" stroke-width="0.8" stroke-linecap="butt"/>
<rect x="302.20" y="169.74" width="3.20" height="3.20" fill="#0a4584"/>
<line x1="329.60" y1="181.64" x2="329.60" y2="185.78" stroke="#0a4584" stroke-width="0.8" stroke-linecap="butt"/>
<line x1="328.40" y1="181.64" x2="330.80" y2="181.64" stroke="#0a4584" stroke-width="0.8" stroke-linecap="butt"/>
<line x1="328.40" y1="185.78" x2="330.80" y2="185.78" stroke="#0a4584" stroke-width="0.8" stroke-linecap="butt"/>
<rect x="328.00" y="182.11" width="3.20" height="3.20" fill="#0a4584"/>
<line x1="355.40" y1="199.67" x2="355.40" y2="204.51" stroke="#0a4584" stroke-width="0.8" stroke-linecap="butt"/>
<line x1="354.20" y1="199.67" x2="356.60" y2="199.67" stroke="#0a4584" stroke-width="0.8" stroke-linecap="butt"/>
<line x1="354.20" y1="204.51" x2="356.60" y2="204.51" stroke="#0a4584" stroke-width="0.8" stroke-linecap="butt"/>
<rect x="353.80" y="200.49" width="3.20" height="3.20" fill="#0a4584"/>
<rect x="379.70" y="205.88" width="3.20" height="3.20" fill="#0a4584"/>
<path d="M303.80,198.63 L329.60,198.63 L355.40,205.20 L381.30,209.00" fill="none" stroke="#c8102e" stroke-width="1.4" stroke-linejoin="round"/>
<line x1="303.80" y1="197.60" x2="303.80" y2="199.67" stroke="#c8102e" stroke-width="0.8" stroke-linecap="butt"/>
<line x1="302.60" y1="197.60" x2="305.00" y2="197.60" stroke="#c8102e" stroke-width="0.8" stroke-linecap="butt"/>
<line x1="302.60" y1="199.67" x2="305.00" y2="199.67" stroke="#c8102e" stroke-width="0.8" stroke-linecap="butt"/>
<circle cx="303.80" cy="198.63" r="1.7" fill="#c8102e"/>
<line x1="329.60" y1="195.18" x2="329.60" y2="202.09" stroke="#c8102e" stroke-width="0.8" stroke-linecap="butt"/>
<line x1="328.40" y1="195.18" x2="330.80" y2="195.18" stroke="#c8102e" stroke-width="0.8" stroke-linecap="butt"/>
<line x1="328.40" y1="202.09" x2="330.80" y2="202.09" stroke="#c8102e" stroke-width="0.8" stroke-linecap="butt"/>
<circle cx="329.60" cy="198.63" r="1.7" fill="#c8102e"/>
<circle cx="355.40" cy="205.20" r="1.7" fill="#c8102e"/>
<circle cx="381.30" cy="209.00" r="1.7" fill="#c8102e"/>
<text transform="translate(42.70,29.80) scale(1.021,1)" font-size="8.10" fill="#1a1a1a">A*02 neg</text>
<text transform="translate(168.90,30.20) scale(0.954,1)" font-size="8.10" fill="#1a1a1a">ALNEQIARL</text>
<text transform="translate(168.35,38.80) scale(1.038,1)" font-size="8.10" fill="#1a1a1a">neg</text>
<line x1="6.10" y1="236.20" x2="242.50" y2="236.20" stroke="#1a1a1a" stroke-width="1.1" stroke-linecap="butt"/>
<line x1="274.40" y1="236.20" x2="513.00" y2="236.20" stroke="#1a1a1a" stroke-width="1.1" stroke-linecap="butt"/>
<text transform="translate(251.97,239.10) scale(0.956,1)" font-size="9.57" fill="#1a1a1a">E:T</text>
</svg>
</body></html>
